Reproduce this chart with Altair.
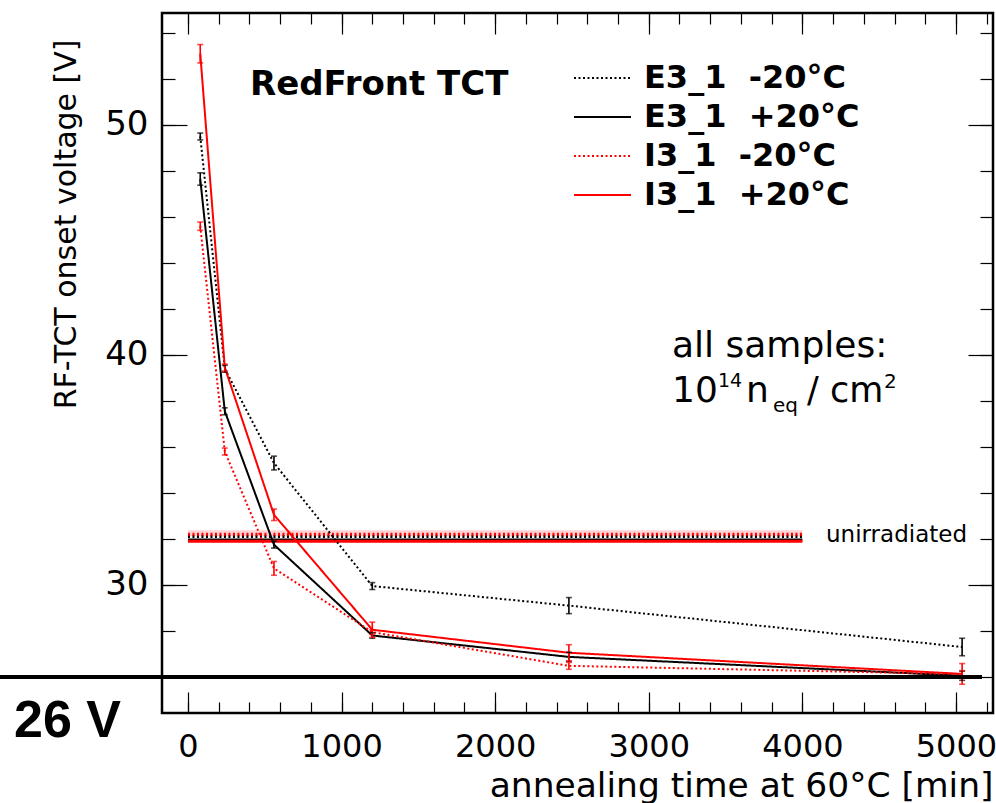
import altair as alt
import pandas as pd

# ---------------- data ----------------
times = [80, 240, 560, 1200, 2480, 5040]
series_names = ["E3_1\u00a0\u00a0-20°C", "E3_1\u00a0\u00a0+20°C",
                "I3_1\u00a0\u00a0-20°C", "I3_1\u00a0\u00a0+20°C"]
e3_m20 = [49.5, 39.4, 35.3, 29.95, 29.1, 27.3]
e3_m20_err = [0.15, 0.15, 0.3, 0.15, 0.35, 0.38]
e3_p20 = [47.65, 37.55, 31.75, 27.8, 26.87, 26.05]
e3_p20_err = [0.27, 0.15, 0.15, 0.12, 0.2, 0.2]
i3_m20 = [45.6, 35.8, 30.72, 27.95, 26.48, 26.12]
i3_m20_err = [0.18, 0.15, 0.3, 0.1, 0.15, 0.15]
i3_p20 = [53.1, 39.45, 33.05, 28.05, 27.05, 26.13]
i3_p20_err = [0.4, 0.15, 0.25, 0.33, 0.35, 0.45]

unirr_values = [32.1, 31.95, 32.2, 31.9]
unirr_times = [0, 4000]
unirr_band = [32.1, 32.38]
limit_voltage = [26]

x_major = [0, 1000, 2000, 3000, 4000, 5000]
x_minor = [0, 200, 400, 600, 800, 1000, 1200, 1400, 1600, 1800, 2000, 2200, 2400,
           2600, 2800, 3000, 3200, 3400, 3600, 3800, 4000, 4200, 4400, 4600, 4800,
           5000, 5200]
y_major = [30, 40, 50]
y_minor = [26, 28, 30, 32, 34, 36, 38, 40, 42, 44, 46, 48, 50, 52, 54]

# ---------------- styles ----------------
series_colors = ["#000000", "#000000", "#ff0000", "#ff0000"]
series_dashes = [[2, 2.5], [1, 0], [2, 2.5], [1, 0]]
FONT = "DejaVu Sans"

rows = []
for name, vals, errs in zip(series_names,
                            [e3_m20, e3_p20, i3_m20, i3_p20],
                            [e3_m20_err, e3_p20_err, i3_m20_err, i3_p20_err]):
    for t, v, e in zip(times, vals, errs):
        rows.append({"series": name, "time": t, "value": v, "lo": v - e, "hi": v + e})
df = pd.DataFrame(rows)

urows = []
for name, v in zip(series_names, unirr_values):
    for t in unirr_times:
        urows.append({"series": name, "time": t, "value": v})
df_u = pd.DataFrame(urows)

df_band = pd.DataFrame({"x0": [unirr_times[0]], "x1": [unirr_times[1]],
                        "y0": [unirr_band[0]], "y1": [unirr_band[1]]})
df_lim = pd.DataFrame({"v": limit_voltage})
one = pd.DataFrame({"k": [0]})

W, H = 831, 700
xs = alt.Scale(domain=[-169, 5241], nice=False, zero=False)
ys = alt.Scale(domain=[24.43, 54.87], nice=False, zero=False)

leg = alt.Legend(orient="none", legendX=411, legendY=45.75, title=None,
                 symbolType="stroke", symbolSize=3249, symbolStrokeWidth=2,
                 labelFont=FONT, labelFontWeight="bold", labelFontSize=32,
                 labelColor="black", labelOffset=12, clipHeight=38.5,
                 rowPadding=0, padding=0, labelLimit=500)
color_leg = alt.Color("series:N", scale=alt.Scale(domain=series_names, range=series_colors), legend=leg)
dash_leg = alt.StrokeDash("series:N", scale=alt.Scale(domain=series_names, range=series_dashes), legend=leg)
color_nl = alt.Color("series:N", scale=alt.Scale(domain=series_names, range=series_colors), legend=None)
dash_nl = alt.StrokeDash("series:N", scale=alt.Scale(domain=series_names, range=series_dashes), legend=None)

common = dict(domain=False, grid=False, tickColor="black", tickWidth=1.2, labelFlush=False,
              labelOverlap=False)

ax_xb_major = alt.Axis(orient="bottom", values=x_major, tickSize=21, offset=-21, format="d",
                       labelFont=FONT, labelFontSize=32, labelPadding=18, labelColor="black",
                       title="annealing time at 60°C [min]", titleFont=FONT, titleFontSize=34.5,
                       titleFontWeight="normal", titleColor="black", titleX=W, titleY=104,
                       titleAlign="right", titleBaseline="alphabetic", **common)
ax_xb_minor = alt.Axis(orient="bottom", values=x_minor, tickSize=11, offset=-11, labels=False,
                       title=None, **common)
ax_xt_major = alt.Axis(orient="top", values=x_major, tickSize=21, offset=-21, labels=False,
                       title=None, **common)
ax_xt_minor = alt.Axis(orient="top", values=x_minor, tickSize=11, offset=-11, labels=False,
                       title=None, **common)
ax_yl_major = alt.Axis(orient="left", values=y_major, tickSize=25, offset=-25, format="d",
                       labelFont=FONT, labelFontSize=34, labelPadding=14, labelColor="black",
                       title="RF-TCT onset voltage [V]", titleFont=FONT, titleFontSize=30,
                       titleFontWeight="normal", titleColor="black", titleAngle=270,
                       titleX=-112, titleY=26, titleAlign="right", titleBaseline="alphabetic",
                       **common)
ax_yl_minor = alt.Axis(orient="left", values=y_minor, tickSize=13, offset=-13, labels=False,
                       title=None, **common)
ax_yr_major = alt.Axis(orient="right", values=y_major, tickSize=25, offset=-25, labels=False,
                       title=None, **common)
ax_yr_minor = alt.Axis(orient="right", values=y_minor, tickSize=13, offset=-13, labels=False,
                       title=None, **common)

band = alt.Chart(df_band).mark_rect(fill="#ff8080", opacity=0.35).encode(
    x=alt.X("x0:Q", scale=xs, axis=None), x2="x1",
    y=alt.Y("y0:Q", scale=ys, axis=None), y2="y1")

unirr = alt.Chart(df_u).mark_line(strokeWidth=3).encode(
    x=alt.X("time:Q", scale=xs, axis=ax_xt_minor),
    y=alt.Y("value:Q", scale=ys, axis=ax_yr_minor),
    color=color_nl, strokeDash=dash_nl, detail="series:N")

lines = alt.Chart(df).mark_line(strokeWidth=2).encode(
    x=alt.X("time:Q", scale=xs, axis=ax_xb_major),
    y=alt.Y("value:Q", scale=ys, axis=ax_yl_major),
    color=color_leg, strokeDash=dash_leg)

errs = alt.Chart(df).mark_rule(strokeWidth=1.6).encode(
    x=alt.X("time:Q", scale=xs, axis=ax_xb_minor),
    y=alt.Y("lo:Q", scale=ys, axis=ax_yl_minor), y2="hi",
    color=color_nl)

caps = alt.Chart(df).transform_fold(["lo", "hi"], as_=["k", "v"]).mark_tick(
    orient="horizontal", size=6, thickness=1.6).encode(
    x=alt.X("time:Q", scale=xs, axis=ax_xt_major),
    y=alt.Y("v:Q", scale=ys, axis=ax_yr_major),
    color=color_nl)

lim = alt.Chart(df_lim).mark_rule(strokeWidth=4, color="black").encode(
    y=alt.Y("v:Q", scale=ys, axis=None), x=alt.value(-162), x2=alt.value(820))


def txt(text, x, y, size, weight="normal", font=FONT):
    return alt.Chart(one).mark_text(text=text, font=font, fontSize=size, fontWeight=weight,
                                    align="left", baseline="alphabetic", color="black").encode(
        x=alt.value(x), y=alt.value(y))


texts = [
    txt("RedFront TCT", 88, 82, 34, "bold"),
    txt("all samples:", 510, 344, 36),
    txt("10", 510, 389, 36),
    txt("14", 556, 374, 19),
    txt("n", 584, 389, 36),
    txt("eq", 611, 399, 20),
    txt("/ cm", 645, 389, 35),
    txt("2", 722, 375, 20),
    txt("unirradiated", 664, 529, 23),
    txt("26 V", -148, 724, 52, "bold", "Liberation Sans"),
]

chart = alt.layer(band, unirr, lines, errs, caps, lim, *texts).resolve_axis(
    x="independent", y="independent"
).resolve_legend(
    color="independent", strokeDash="independent"
).properties(
    width=W, height=H,
    autosize=alt.AutoSizeParams(type="none"),
    padding={"left": 162, "top": 13, "right": 3, "bottom": 90},
    background="white",
).configure_view(stroke="black", strokeWidth=2.5)

chart.save("out.html", embed_options={"renderer": "svg", "actions": False})
